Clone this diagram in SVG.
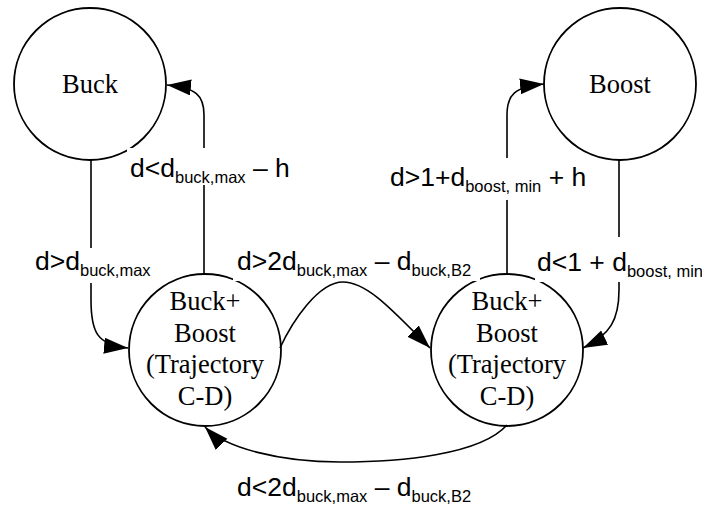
<svg xmlns="http://www.w3.org/2000/svg" width="702" height="507" viewBox="0 0 702 507">
<style>
.node{fill:#fff;stroke:#000;stroke-width:1.8}
.ntext{font-family:"Liberation Serif","Times New Roman",serif;font-size:26.5px;fill:#000;text-anchor:middle}
.edge{fill:none;stroke:#000;stroke-width:1.6}
.lbl{font-family:"Liberation Sans",Arial,sans-serif;font-size:26.5px;fill:#000}
.sub{font-size:16.5px}
.bg{fill:#fff;stroke:none}
</style>
<defs>
<marker id="arr" markerUnits="userSpaceOnUse" markerWidth="26" markerHeight="18" refX="24" refY="8" orient="auto" viewBox="0 0 26 18">
<path d="M0,0 L24,8 L0,16 z" fill="#000"/>
</marker>
</defs>
<g id="buck"><circle class="node" cx="90" cy="84" r="76"/><text class="ntext" x="90" y="93">Buck</text></g>
<g id="boost"><circle class="node" cx="620" cy="84" r="76"/><text class="ntext" x="620" y="93">Boost</text></g>
<g id="bb1"><circle class="node" cx="205" cy="350" r="76"/>
<text class="ntext" x="205" y="310">Buck+</text><text class="ntext" x="205" y="341.5">Boost</text><text class="ntext" x="205" y="373">(Trajectory</text><text class="ntext" x="205" y="404.5">C-D)</text></g>
<g id="bb2"><circle class="node" cx="507" cy="350" r="76"/>
<text class="ntext" x="507" y="310">Buck+</text><text class="ntext" x="507" y="341.5">Boost</text><text class="ntext" x="507" y="373">(Trajectory</text><text class="ntext" x="507" y="404.5">C-D)</text></g>
<g id="connectors">
<path class="edge" marker-end="url(#arr)" d="M91,160 L91,300 C91,332 97,345 128,348"/>
<path class="edge" marker-end="url(#arr)" d="M204,274 L204,115 C204,95 196,88 167,85"/>
<path class="edge" marker-end="url(#arr)" d="M507,274 L507,115 C507,95 514,87 544,84"/>
<path class="edge" marker-end="url(#arr)" d="M619,160 L619,290 C619,320 610,335 583,348"/>
<path class="edge" marker-end="url(#arr)" d="M280,348 C292,322 318,282 343,282 C368,282 395,313 430,348"/>
<path class="edge" marker-end="url(#arr)" d="M507,425 C480,455 400,462 340,462 C280,462 225,448 205,427"/>
<rect class="bg" x="33" y="248" width="125" height="35"/>
<text class="lbl" x="35" y="270">d&gt;d<tspan class="sub" dy="6">buck,max</tspan></text>
<rect class="bg" x="127" y="148" width="163" height="37"/>
<text class="lbl" x="130" y="177">d&lt;d<tspan class="sub" dy="6">buck,max</tspan><tspan dy="-6"> – h</tspan></text>
<rect class="bg" x="388" y="158" width="200" height="42"/>
<text class="lbl" x="390" y="186">d&gt;1+d<tspan class="sub" dy="6">boost, min</tspan><tspan dy="-6"> + h</tspan></text>
<rect class="bg" x="535" y="237" width="167" height="45"/>
<text class="lbl" x="537" y="271">d&lt;1 + d<tspan class="sub" dy="6">boost, min</tspan></text>
<rect class="bg" x="233" y="245" width="247" height="36"/>
<text class="lbl" x="237" y="270">d&gt;2d<tspan class="sub" dy="6">buck,max</tspan><tspan dy="-6"> – d</tspan><tspan class="sub" dy="6">buck,B2</tspan></text>
<rect class="bg" x="235" y="473" width="245" height="32"/>
<text class="lbl" x="237" y="496">d&lt;2d<tspan class="sub" dy="6">buck,max</tspan><tspan dy="-6"> – d</tspan><tspan class="sub" dy="6">buck,B2</tspan></text>
</g>
</svg>
